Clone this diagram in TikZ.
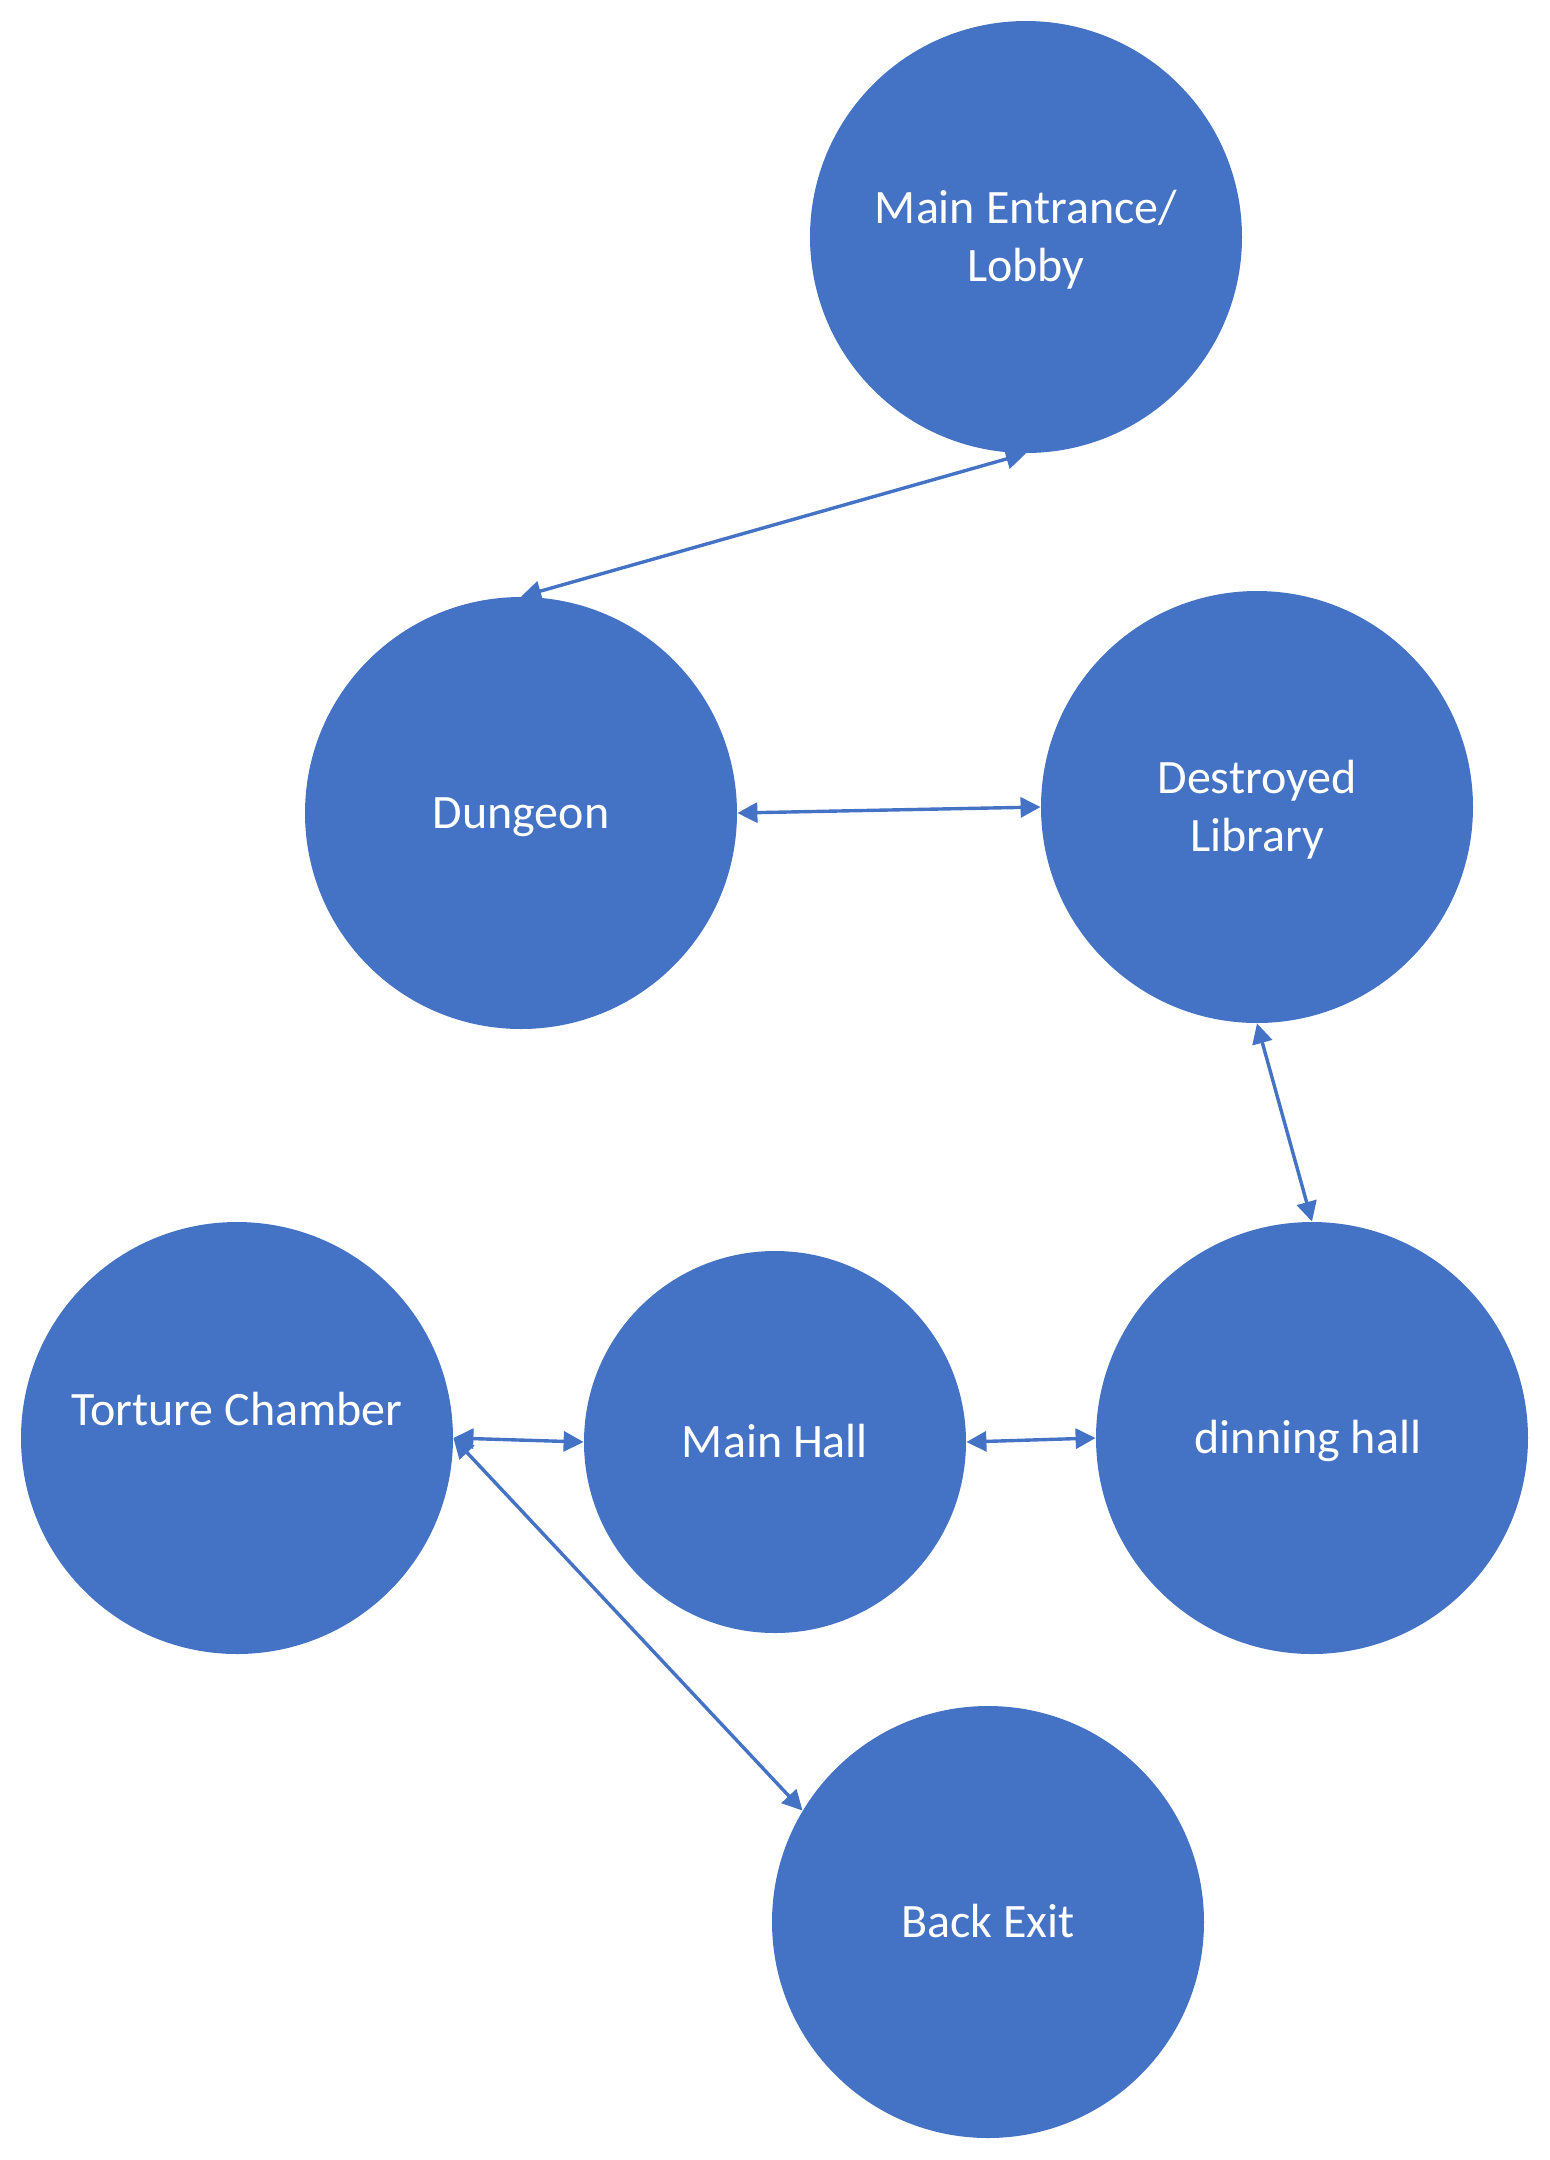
\documentclass[tikz,border=0pt]{standalone}
\usepackage{fontspec}
\setmainfont{Carlito}
\usetikzlibrary{arrows.meta}
\definecolor{wblue}{HTML}{4472C4}
\begin{document}
\begin{tikzpicture}[x=0.5pt,y=-0.5pt,
  room/.style={circle, fill=wblue, inner sep=0pt, minimum size=216pt},
  roomtext/.style={text=white, inner sep=0pt, align=center, font=\fontsize{24}{29}\selectfont},
  link/.style={draw=wblue, line width=1.7pt,
    {Triangle[length=10pt,width=10pt]}-{Triangle[length=10pt,width=10pt]}}]
\useasboundingbox (0,0) rectangle (1550,2160);
% rooms
\node[room] (me) at (1026,237) {};
\node[room] (dg) at (521,813) {};
\node[room] (lib) at (1257,807) {};
\node[room] (tc) at (237,1438) {};
\node[room, minimum size=191pt] (mh) at (775,1442) {};
\node[room] (din) at (1312,1438) {};
\node[room] (be) at (988,1922) {};
% labels
\node[roomtext] (metext) at (1026,240) {Main Entrance/\\Lobby};
\node[roomtext] (dgtext) at (521,817) {Dungeon};
\node[roomtext] (libtext) at (1257,810) {Destroyed\\Library};
\node[roomtext] (tctext) at (237,1409) {Torture Chamber};
\node[roomtext] (mhtext) at (775,1441) {Main Hall};
\node[roomtext] (dintext) at (1308,1441) {dinning hall};
\node[roomtext] (betext) at (988,1921) {Back Exit};
% connectors
\draw[link] (me.south) -- (dg.north);
\draw[link] (dg.east) -- (lib.west);
\draw[link] (lib.south) -- (din.north);
\draw[link] (tc.east) -- (mh.west);
\draw[link] (mh.east) -- (din.west);
\draw[link] (tc.east) -- (be.149.6);
\end{tikzpicture}
\end{document}
